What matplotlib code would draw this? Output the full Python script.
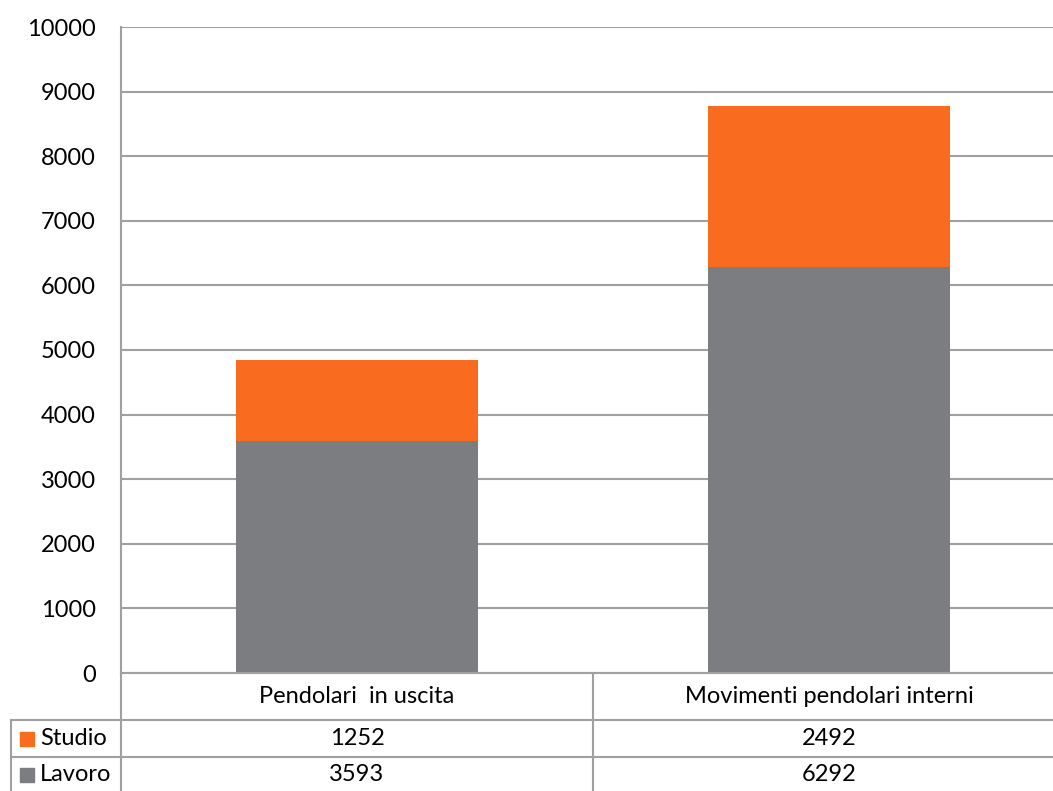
import matplotlib
matplotlib.use("Agg")
import matplotlib.pyplot as plt
from matplotlib.patches import Rectangle
from matplotlib.lines import Line2D

categories = ["Pendolari  in uscita", "Movimenti pendolari interni"]
series_names = ["Studio", "Lavoro"]
studio = [1252, 2492]
lavoro = [3593, 6292]
y_ticks = [0, 1000, 2000, 3000, 4000, 5000, 6000, 7000, 8000, 9000, 10000]

orange = "#F96B1E"
grey = "#7C7D80"
line_col = "#A0A0A0"
fs = 17

plt.rcParams["font.family"] = ["Lato", "DejaVu Sans"]

W, H = 1053, 791
fig = plt.figure(figsize=(W / 100, H / 100), dpi=100)

# axes spans the two category slots; the right slot runs past the figure edge
left_px, right_px = 121, 1065
top_px, bottom_px = 27, 673
ax = fig.add_axes([left_px / W, 1 - bottom_px / H,
                   (right_px - left_px) / W, (bottom_px - top_px) / H])

x = range(len(categories))
bw = 0.513
ax.bar(x, lavoro, width=bw, color=grey, zorder=3)
ax.bar(x, studio, width=bw, bottom=lavoro, color=orange, zorder=3)

ax.set_xlim(-0.5, len(categories) - 0.5)
ax.set_ylim(0, 10000)
ax.set_yticks(y_ticks)
ax.set_yticklabels([str(t) for t in y_ticks], fontsize=fs)
ax.tick_params(axis="y", length=0, pad=18)
ax.set_xticks([])
ax.grid(axis="y", color=line_col, linewidth=1.5, zorder=0)
for s in ["top", "right", "bottom"]:
    ax.spines[s].set_visible(False)
ax.spines["left"].set_color(line_col)
ax.spines["left"].set_linewidth(1.5)

# data table below the plot, drawn in pixel coordinates
def fy(py):
    return 1 - py / H

def fx(px):
    return px / W

def hline(x0, x1, py):
    fig.add_artist(Line2D([fx(x0), fx(x1)], [fy(py), fy(py)],
                          color=line_col, linewidth=1.5))

def vline(px, y0, y1):
    fig.add_artist(Line2D([fx(px), fx(px)], [fy(y0), fy(y1)],
                          color=line_col, linewidth=1.5))

slot = (right_px - left_px) / len(categories)
row_top = [673, 720, 757]
row_bot = [720, 757, 794]

hline(left_px, W, 673)
hline(11, W, 720)
hline(11, W, 757)
vline(left_px, 673, H)
vline(11, 720, H)
for i in range(1, len(categories)):
    vline(left_px + slot * i, 673, H)

for i, cat in enumerate(categories):
    cx = left_px + slot * (i + 0.5)
    fig.text(fx(cx), fy((row_top[0] + row_bot[0]) / 2), cat,
             ha="center", va="center", fontsize=fs)
    fig.text(fx(cx), fy((row_top[1] + row_bot[1]) / 2), str(studio[i]),
             ha="center", va="center", fontsize=fs)
    fig.text(fx(cx), fy((row_top[2] + row_bot[2]) / 2 - 1), str(lavoro[i]),
             ha="center", va="center", fontsize=fs)

for r, (name, col) in enumerate(zip(series_names, [orange, grey])):
    cy = (row_top[r + 1] + row_bot[r + 1]) / 2 - (1 if r == 1 else 0)
    fig.add_artist(Rectangle((fx(20), fy(cy + 7)), 14 / W, 14 / H,
                             transform=fig.transFigure, color=col))
    fig.text(fx(40), fy(cy), name, ha="left", va="center", fontsize=fs)

fig.savefig("out.png", dpi=100)
